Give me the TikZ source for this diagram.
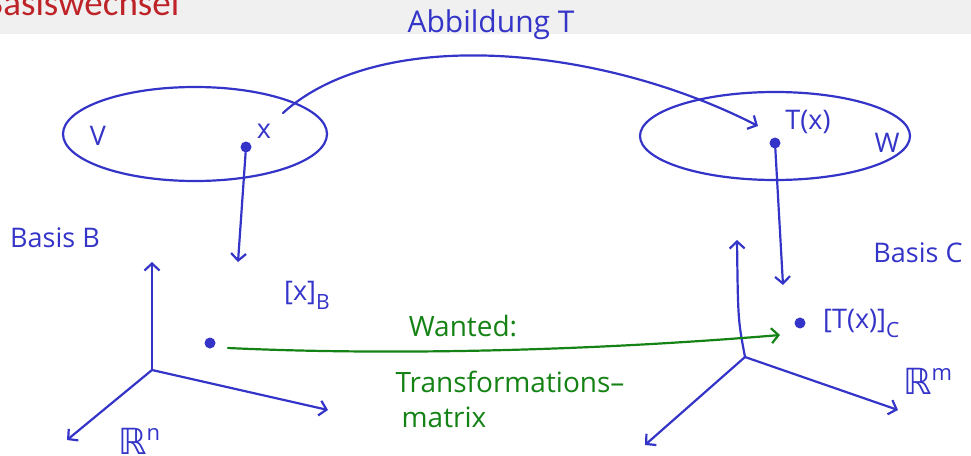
\documentclass[tikz,border=0pt]{standalone}
\usepackage{fontspec}
\setmainfont{Open Sans}
\newfontfamily\titlefont{Carlito}
\newfontfamily\symfont{DejaVu Sans}
\usetikzlibrary{arrows.meta}
\definecolor{ink}{RGB}{52,52,200}
\definecolor{penG}{RGB}{20,130,20}
\definecolor{band}{RGB}{240,240,240}
\definecolor{titlered}{RGB}{190,35,40}
\newcommand{\lowsub}[1]{\raisebox{-9pt}{\fontsize{21}{21}\selectfont #1}}
\newcommand{\realsp}[1]{{\symfont\fontsize{36}{36}\selectfont ℝ}\raisebox{14pt}{\fontsize{22}{22}\selectfont #1}}
\tikzset{
  pen/.style={draw=ink, line width=2.2pt, line cap=round, line join=round},
  greenpen/.style={draw=penG, line width=2.2pt, line cap=round},
  barb/.style={-{Straight Barb[length=7pt,width=15pt,line width=2.2pt]}},
  hand/.style={text=ink, font=\fontsize{27}{29}\selectfont, inner sep=0pt},
  greenhand/.style={text=penG, font=\fontsize{28}{30}\selectfont, inner sep=0pt},
  pt/.style={circle, fill=ink, minimum size=11pt, inner sep=0pt},
}
\begin{document}
\begin{tikzpicture}[x=1pt,y=-1pt]
\useasboundingbox (0,0) rectangle (971,455);
\clip (0,0) rectangle (971,455);
% header band
\fill[band] (0,0) rectangle (971,34);
\node[anchor=base west, text=titlered, font=\titlefont\fontsize{37}{37}\selectfont, inner sep=0pt] (title) at (-17,15) {Basiswechsel};

% sets V and W
\draw[pen] (195,134) ellipse [x radius=132, y radius=47];
\draw[pen] (775,136) ellipse [x radius=135, y radius=44];
\node[hand] (V) at (98,136) {V};
\node[hand] (W) at (887,143) {W};
\node[pt] (x) at (246,147) {};
\node[hand] (xl) at (264,131) {x};
\node[pt] (Tx) at (775,143) {};
\node[hand] (Txl) at (808,122) {T(x)};

% map T
\node[hand, font=\fontsize{30}{32}\selectfont] (abb) at (491,25) {Abbildung T};
\coordinate (Tend) at (758,126);
\draw[pen, barb] (283,113) .. controls (380,25) and (600,45) .. (Tend);

% coordinate spaces
\coordinate (o1) at (152,370);
\coordinate (a1) at (152,262);
\coordinate (b1) at (328,410);
\coordinate (c1) at (67,440);
\draw[pen, barb] (o1) -- (a1);
\draw[pen, barb] (o1) -- (b1);
\draw[pen, barb] (o1) -- (c1);
\node[hand, anchor=base west] (Rn) at (118,454) {\realsp{n}};
\node[hand] (bB) at (55,238) {Basis B};

\coordinate (o2) at (745,357);
\coordinate (a2) at (737,240);
\coordinate (b2) at (898,410);
\coordinate (c2) at (645,445);
\draw[pen, barb] (o2) .. controls (738,320) .. (a2);
\draw[pen, barb] (o2) -- (b2);
\draw[pen, barb] (o2) -- (c2);
\node[hand, anchor=base west] (Rm) at (903,394) {\realsp{m}};
\node[hand] (bC) at (918,253) {Basis C};

% coordinate vectors
\node[pt] (xB) at (210,343) {};
\node[hand, anchor=base west] (xBl) at (284,300) {[x]\lowsub{B}};
\node[pt] (TxC) at (800,323) {};
\node[hand, anchor=base west] (TxCl) at (823,328) {[T(x)]\lowsub{C}};

\coordinate (d1) at (238,262);
\coordinate (d2) at (783,285);
\draw[pen, barb] (x) -- (d1);
\draw[pen, barb] (Tx) -- (d2);

% wanted transformation
\coordinate (g1) at (228,348);
\coordinate (g2) at (780,335);
\draw[greenpen, -{Straight Barb[length=7pt,width=15pt,line width=2.2pt]}] (g1) .. controls (400,356) and (600,350) .. (g2);
\node[greenhand] (wanted) at (463,326) {Wanted:};
\node[greenhand] (trans) at (510,382) {Transformations–};
\node[greenhand] (matrix) at (444,417) {matrix};
\end{tikzpicture}
\end{document}
